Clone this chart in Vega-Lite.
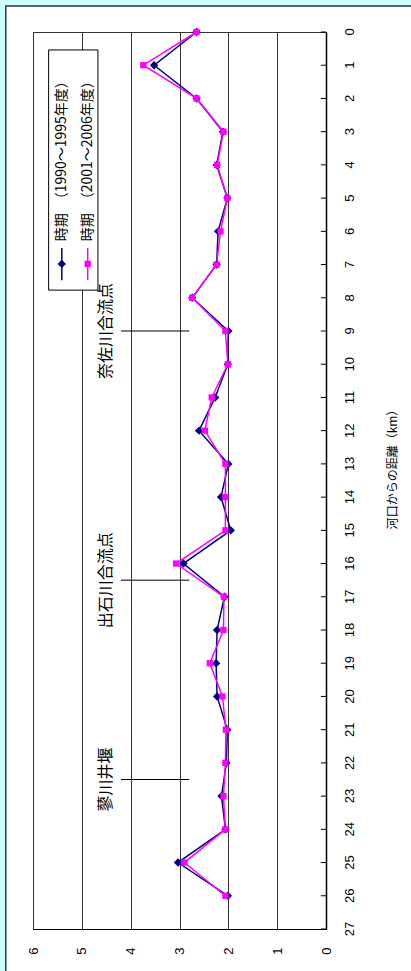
{
  "$schema": "https://vega.github.io/schema/vega-lite/v6.json",
  "width": 293,
  "height": 897,
  "autosize": {"type": "none"},
  "padding": {"left": 33, "top": 32, "right": 85, "bottom": 42},
  "background": "white",
  "config": {
    "view": {"stroke": "#333333", "strokeWidth": 1},
    "font": "Liberation Sans",
    "axis": {"labelOverlap": false}
  },
  "datasets": {
    "series": [
      {"km": 0, "series": "A", "value": 2.65}, {"km": 0, "series": "B", "value": 2.65},
      {"km": 1, "series": "A", "value": 3.52}, {"km": 1, "series": "B", "value": 3.74},
      {"km": 2, "series": "A", "value": 2.65}, {"km": 2, "series": "B", "value": 2.65},
      {"km": 3, "series": "A", "value": 2.11}, {"km": 3, "series": "B", "value": 2.10},
      {"km": 4, "series": "A", "value": 2.24}, {"km": 4, "series": "B", "value": 2.23},
      {"km": 5, "series": "A", "value": 2.02}, {"km": 5, "series": "B", "value": 2.02},
      {"km": 6, "series": "A", "value": 2.21}, {"km": 6, "series": "B", "value": 2.16},
      {"km": 7, "series": "A", "value": 2.24}, {"km": 7, "series": "B", "value": 2.24},
      {"km": 8, "series": "A", "value": 2.74}, {"km": 8, "series": "B", "value": 2.74},
      {"km": 9, "series": "A", "value": 2.00}, {"km": 9, "series": "B", "value": 2.06},
      {"km": 10, "series": "A", "value": 2.01}, {"km": 10, "series": "B", "value": 2.01},
      {"km": 11, "series": "A", "value": 2.27}, {"km": 11, "series": "B", "value": 2.34},
      {"km": 12, "series": "A", "value": 2.60}, {"km": 12, "series": "B", "value": 2.48},
      {"km": 13, "series": "A", "value": 2.00}, {"km": 13, "series": "B", "value": 2.06},
      {"km": 14, "series": "A", "value": 2.15}, {"km": 14, "series": "B", "value": 2.06},
      {"km": 15, "series": "A", "value": 1.95}, {"km": 15, "series": "B", "value": 2.06},
      {"km": 16, "series": "A", "value": 2.92}, {"km": 16, "series": "B", "value": 3.07},
      {"km": 17, "series": "A", "value": 2.08}, {"km": 17, "series": "B", "value": 2.09},
      {"km": 18, "series": "A", "value": 2.23}, {"km": 18, "series": "B", "value": 2.10},
      {"km": 19, "series": "A", "value": 2.25}, {"km": 19, "series": "B", "value": 2.38},
      {"km": 20, "series": "A", "value": 2.23}, {"km": 20, "series": "B", "value": 2.12},
      {"km": 21, "series": "A", "value": 2.02}, {"km": 21, "series": "B", "value": 2.05},
      {"km": 22, "series": "A", "value": 2.04}, {"km": 22, "series": "B", "value": 2.06},
      {"km": 23, "series": "A", "value": 2.14}, {"km": 23, "series": "B", "value": 2.10},
      {"km": 24, "series": "A", "value": 2.06}, {"km": 24, "series": "B", "value": 2.06},
      {"km": 25, "series": "A", "value": 3.03}, {"km": 25, "series": "B", "value": 2.90},
      {"km": 26, "series": "A", "value": 2.01}, {"km": 26, "series": "B", "value": 2.06}
    ],
    "kmticks": [
      {"km": 0}, {"km": 1}, {"km": 2}, {"km": 3}, {"km": 4}, {"km": 5}, {"km": 6},
      {"km": 7}, {"km": 8}, {"km": 9}, {"km": 10}, {"km": 11}, {"km": 12}, {"km": 13},
      {"km": 14}, {"km": 15}, {"km": 16}, {"km": 17}, {"km": 18}, {"km": 19}, {"km": 20},
      {"km": 21}, {"km": 22}, {"km": 23}, {"km": 24}, {"km": 25}, {"km": 26}, {"km": 27}
    ],
    "annot": [
      {"km": 9, "label": "奈佐川合流点"},
      {"km": 16.5, "label": "出石川合流点"},
      {"km": 22.5, "label": "蓼川井堰"}
    ]
  },
  "layer": [
    {
      "data": {"values": [{}]},
      "mark": {"type": "rect", "fill": "#CCFFFF"},
      "encoding": {"x": {"datum": 7.5, "type": "quantitative"}, "x2": {"datum": -3}, "y": {"datum": -2, "type": "quantitative"}, "y2": {"datum": -0.78}}
    },
    {
      "data": {"values": [{}]},
      "mark": {"type": "rect", "fill": "#CCFFFF"},
      "encoding": {"x": {"datum": 7.5, "type": "quantitative"}, "x2": {"datum": 6.557}, "y": {"datum": -2, "type": "quantitative"}, "y2": {"datum": 30}}
    },
    {
      "data": {"values": [{}]},
      "mark": {"type": "rect", "fill": null, "fillOpacity": 0, "stroke": "#333333", "strokeWidth": 1.5},
      "encoding": {"x": {"datum": 6.557, "type": "quantitative"}, "x2": {"datum": -3}, "y": {"datum": -0.78, "type": "quantitative"}, "y2": {"datum": 30}}
    },
    {
      "data": {"name": "series"},
      "mark": {"type": "line", "strokeWidth": 1.5},
      "encoding": {
        "x": {
          "field": "value", "type": "quantitative",
          "scale": {"domain": [0, 6], "reverse": true, "nice": false, "zero": false},
          "axis": {
            "orient": "bottom", "values": [0, 1, 2, 3, 4, 5, 6], "title": null,
            "grid": true, "gridColor": "#333333", "gridWidth": 1, "gridOpacity": 1,
            "ticks": false, "domain": true, "domainColor": "#000000", "domainWidth": 1.2,
            "labelAngle": -90, "labelAlign": "right", "labelBaseline": "middle",
            "labelPadding": 18, "labelFontSize": 13, "labelColor": "#000000", "labelFont": "Liberation Sans",
            "labelOverlap": false
          }
        },
        "y": {
          "field": "km", "type": "quantitative",
          "scale": {"domain": [0, 27], "reverse": true, "nice": false, "zero": false},
          "axis": {
            "orient": "right", "labels": false, "ticks": false, "grid": false,
            "title": "河口からの距離（km）", "titleAngle": -90, "titleFont": "Noto Sans CJK JP",
            "titleFontWeight": "normal", "titleFontSize": 12, "titleColor": "#000000",
            "titleAlign": "center", "titleBaseline": "top", "titleX": 61, "titleY": 434,
            "domain": true, "domainColor": "#000000", "domainWidth": 1.5
          }
        },
        "color": {"field": "series", "type": "nominal", "scale": {"domain": ["A", "B"], "range": ["#000080", "#FF00FF"]}, "legend": null},
        "order": {"field": "km"}
      }
    },
    {
      "data": {"name": "series"},
      "mark": {"type": "point", "filled": true, "opacity": 1},
      "encoding": {
        "x": {"field": "value", "type": "quantitative"},
        "y": {"field": "km", "type": "quantitative"},
        "color": {"field": "series", "type": "nominal", "legend": null},
        "shape": {"field": "series", "type": "nominal", "scale": {"domain": ["A", "B"], "range": ["diamond", "square"]}, "legend": null},
        "size": {"field": "series", "type": "nominal", "scale": {"domain": ["A", "B"], "range": [70, 40]}, "legend": null}
      }
    },
    {
      "data": {"name": "kmticks"},
      "mark": {"type": "rule", "color": "#000000", "strokeWidth": 1},
      "encoding": {"x": {"datum": 0, "type": "quantitative"}, "x2": {"datum": 0.105}, "y": {"field": "km", "type": "quantitative"}}
    },
    {
      "data": {"name": "kmticks"},
      "mark": {"type": "text", "angle": 270, "align": "center", "baseline": "middle", "font": "Liberation Sans", "fontSize": 13, "color": "#000000"},
      "encoding": {"x": {"datum": -0.49, "type": "quantitative"}, "y": {"field": "km", "type": "quantitative"}, "text": {"field": "km", "type": "quantitative"}}
    },
    {
      "data": {"values": [{}]},
      "mark": {"type": "rect", "fill": "white", "stroke": "#000000", "strokeWidth": 1},
      "encoding": {"x": {"datum": 5.68, "type": "quantitative"}, "x2": {"datum": 4.67}, "y": {"datum": 0.54, "type": "quantitative"}, "y2": {"datum": 7.77}}
    },
    {
      "data": {"values": [{}]},
      "mark": {"type": "rule", "color": "#000080", "strokeWidth": 1.5},
      "encoding": {"x": {"datum": 5.41, "type": "quantitative"}, "y": {"datum": 6.5, "type": "quantitative"}, "y2": {"datum": 7.47}}
    },
    {
      "data": {"values": [{}]},
      "mark": {"type": "point", "shape": "diamond", "filled": true, "color": "#000080", "size": 70, "opacity": 1},
      "encoding": {"x": {"datum": 5.41, "type": "quantitative"}, "y": {"datum": 6.98, "type": "quantitative"}}
    },
    {
      "data": {"values": [{}]},
      "mark": {"type": "rule", "color": "#FF00FF", "strokeWidth": 1.5},
      "encoding": {"x": {"datum": 4.88, "type": "quantitative"}, "y": {"datum": 6.5, "type": "quantitative"}, "y2": {"datum": 7.47}}
    },
    {
      "data": {"values": [{}]},
      "mark": {"type": "point", "shape": "square", "filled": true, "color": "#FF00FF", "size": 40, "opacity": 1},
      "encoding": {"x": {"datum": 4.88, "type": "quantitative"}, "y": {"datum": 6.98, "type": "quantitative"}}
    },
    {
      "data": {"values": [{}]},
      "mark": {"type": "text", "angle": 270, "align": "left", "baseline": "middle", "font": "Noto Sans CJK JP", "fontSize": 14, "color": "#000000", "text": "時期　（1990～1995年度）"},
      "encoding": {"x": {"datum": 5.41, "type": "quantitative"}, "y": {"datum": 6.3, "type": "quantitative"}}
    },
    {
      "data": {"values": [{}]},
      "mark": {"type": "text", "angle": 270, "align": "left", "baseline": "middle", "font": "Noto Sans CJK JP", "fontSize": 14, "color": "#000000", "text": "時期　（2001～2006年度）"},
      "encoding": {"x": {"datum": 4.88, "type": "quantitative"}, "y": {"datum": 6.3, "type": "quantitative"}}
    },
    {
      "data": {"name": "annot"},
      "mark": {"type": "rule", "color": "#000000", "strokeWidth": 1},
      "encoding": {"x": {"datum": 4.2, "type": "quantitative"}, "x2": {"datum": 2.8}, "y": {"field": "km", "type": "quantitative"}}
    },
    {
      "data": {"name": "annot"},
      "mark": {"type": "text", "angle": 270, "align": "center", "baseline": "middle", "font": "Noto Sans CJK JP", "fontSize": 16, "color": "#000000"},
      "encoding": {"x": {"datum": 4.51, "type": "quantitative"}, "y": {"field": "km", "type": "quantitative"}, "text": {"field": "label"}}
    }
  ]
}
